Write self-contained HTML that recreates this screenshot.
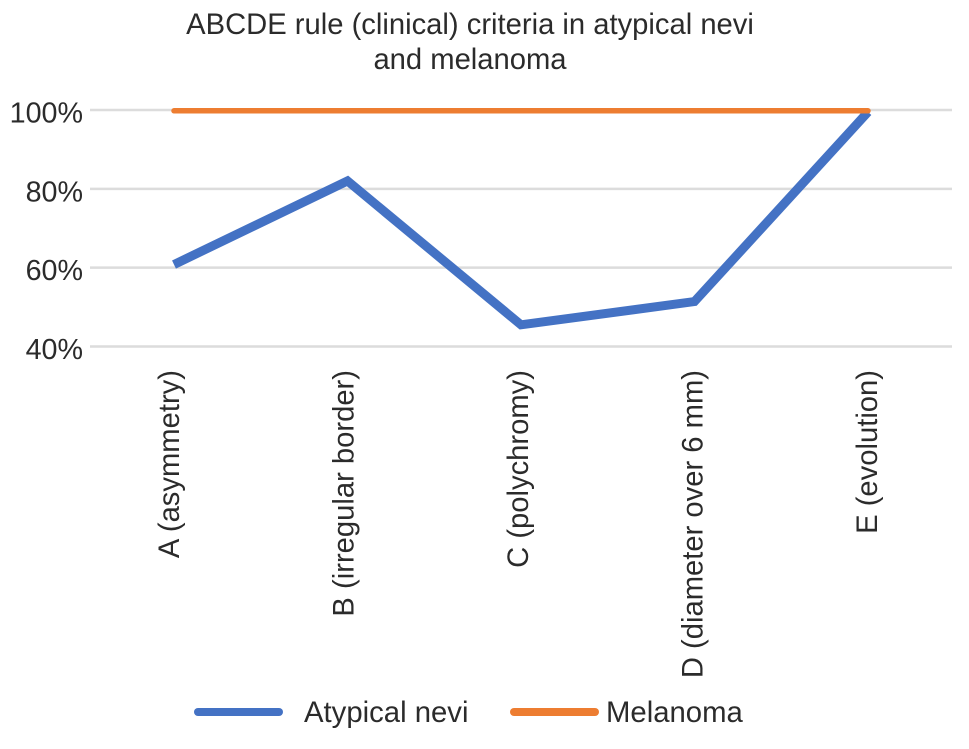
<!DOCTYPE html>
<html lang="en">
<head>
<meta charset="utf-8">
<title>ABCDE rule (clinical) criteria in atypical nevi and melanoma</title>
<style>
html,body{margin:0;padding:0;background:#fff;width:969px;height:749px;overflow:hidden}
svg{display:block;font-family:"Liberation Sans",Arial,sans-serif}
text{fill:#2b2b2b}
</style>
</head>
<body>
<svg id="chart" width="969" height="749" viewBox="0 0 969 749" xmlns="http://www.w3.org/2000/svg">
  <g id="grid"></g>
  <g id="ylabels"></g>
  <g id="xlabels"></g>
  <g id="lines"></g>
  <text x="470" y="34" font-size="29.2" text-anchor="middle">ABCDE rule (clinical) criteria in atypical nevi</text>
  <text x="470" y="69" font-size="29.2" text-anchor="middle">and melanoma</text>
  <g>
    <line x1="198" y1="712" x2="279" y2="712" stroke="#4472c4" stroke-width="8" stroke-linecap="round"></line>
    <text x="304" y="722" font-size="29.3">Atypical nevi</text>
    <line x1="514" y1="712" x2="595" y2="712" stroke="#ed7d31" stroke-width="8" stroke-linecap="round"></line>
    <text x="606" y="722" font-size="29.3">Melanoma</text>
  </g>
</svg>
<script>
const categories = ["A (asymmetry)", "B (irregular border)", "C (polychromy)", "D (diameter over 6 mm)", "E (evolution)"];
const atypicalNevi = [60.8, 82, 45.5, 51.4, 99.5];
const melanoma = [99.8, 99.8, 99.8, 99.8, 99.8];
const yTicks = [100, 80, 60, 40];

const svgNS = "http://www.w3.org/2000/svg";
function yScale(v) { return 346.5 + (40 - v) * (236.5 / 60); }
function xScale(i) { return 174 + i * (694 / (categories.length - 1)); }
function xLabelBaseline(i) { return 179 + i * 174.5; }

const grid = document.getElementById("grid");
const ylabels = document.getElementById("ylabels");
const xlabels = document.getElementById("xlabels");
const lines = document.getElementById("lines");

yTicks.forEach(function (t) {
  const line = document.createElementNS(svgNS, "line");
  
  
  line.setAttribute("x1", 90);
  line.setAttribute("x2", 952);
  line.setAttribute("y1", yScale(t));
  line.setAttribute("y2", yScale(t));
  line.setAttribute("stroke", "#dcdcdc");
  line.setAttribute("stroke-width", 2.5);
  grid.appendChild(line);

  const label = document.createElementNS(svgNS, "text");
  
  
  label.setAttribute("x", 83);
  label.setAttribute("y", yScale(t) + 12.5);
  label.setAttribute("font-size", 28.7);
  label.setAttribute("text-anchor", "end");
  label.textContent = t + "%";
  ylabels.appendChild(label);
});

categories.forEach(function (c, i) {
  const label = document.createElementNS(svgNS, "text");
  
  
  const x = xLabelBaseline(i);
  label.setAttribute("transform", "translate(" + x + ",370) rotate(-90)");
  label.setAttribute("font-size", 29.2);
  label.setAttribute("text-anchor", "end");
  label.textContent = c;
  xlabels.appendChild(label);
});

function pointsFor(values) {
  return values.map(function (v, i) { return xScale(i) + "," + yScale(v); }).join(" ");
}

const blueLine = document.createElementNS(svgNS, "polyline");


blueLine.setAttribute("points", pointsFor(atypicalNevi));
blueLine.setAttribute("fill", "none");
blueLine.setAttribute("stroke", "#4472c4");
blueLine.setAttribute("stroke-width", 9);
blueLine.setAttribute("stroke-linejoin", "miter");
blueLine.setAttribute("stroke-linecap", "butt");
lines.appendChild(blueLine);

const orangeLine = document.createElementNS(svgNS, "polyline");


orangeLine.setAttribute("points", pointsFor(melanoma));
orangeLine.setAttribute("fill", "none");
orangeLine.setAttribute("stroke", "#ed7d31");
orangeLine.setAttribute("stroke-width", 5.5);
orangeLine.setAttribute("stroke-linecap", "round");
lines.appendChild(orangeLine);
</script>
</body>
</html>
